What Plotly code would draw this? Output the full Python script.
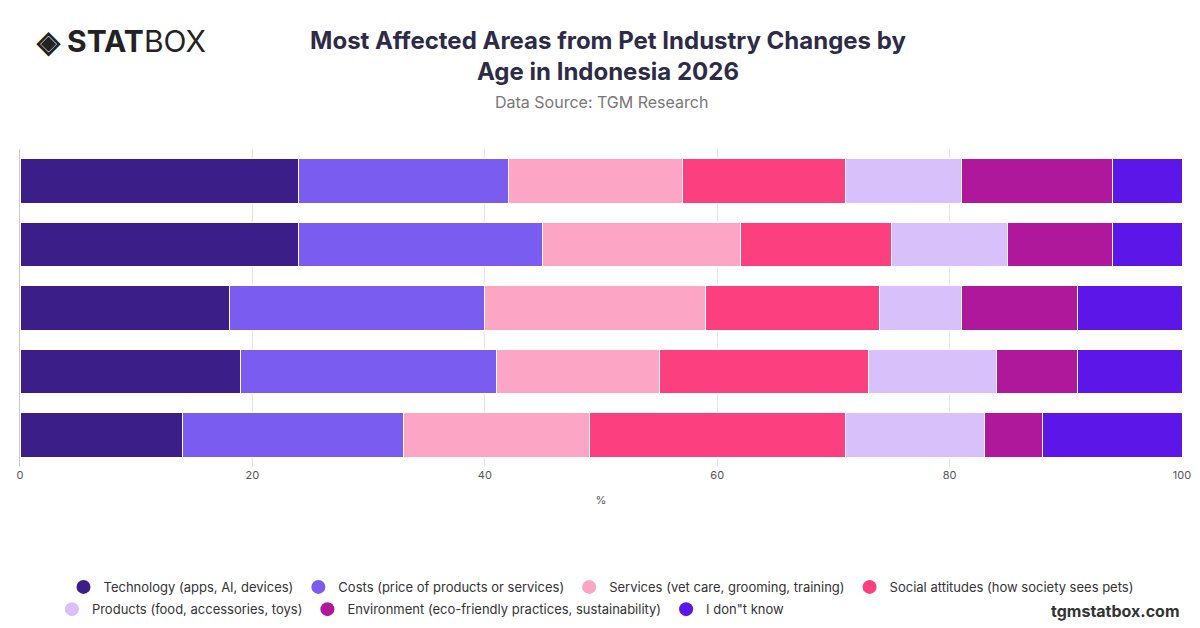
import plotly.graph_objects as go

# age groups, top to bottom (labels are not shown in the chart)
ages = ["18-24", "25-34", "35-44", "45-54", "55+"]
series = [
    "Technology (apps, AI, devices)",
    "Costs (price of products or services)",
    "Services (vet care, grooming, training)",
    "Social attitudes (how society sees pets)",
    "Products (food, accessories, toys)",
    "Environment (eco-friendly practices, sustainability)",
    "I don\"t know",
]
colors = ["#3b1e87", "#7b5cf0", "#fca5c4", "#fb3f7f", "#d8c0fb", "#b0189c", "#5c17e8"]
values = [
    [24, 24, 18, 19, 14],
    [18, 21, 22, 22, 19],
    [15, 17, 19, 14, 16],
    [14, 13, 15, 18, 22],
    [10, 10, 7, 11, 12],
    [13, 9, 10, 7, 5],
    [6, 6, 9, 9, 12],
]

fig = go.Figure()
for name, col, vals in zip(series, colors, values):
    fig.add_trace(go.Bar(y=ages, x=vals, orientation="h", name=name, showlegend=False,
                         marker=dict(color=col, line=dict(color="white", width=1))))
# legend in two rows, like the reference
for i, (name, col) in enumerate(zip(series, colors)):
    fig.add_trace(go.Scatter(x=[None], y=[None], mode="markers", name=name,
                             legend="legend" if i < 4 else "legend2",
                             marker=dict(color=col, size=14, symbol="circle")))

leg = dict(orientation="h", xanchor="center", yanchor="top", traceorder="normal",
           font=dict(size=13, color="#333"), bgcolor="rgba(0,0,0,0)")
fig.update_layout(
    width=1200, height=628, barmode="stack", bargap=0.3,
    plot_bgcolor="white", paper_bgcolor="white",
    font=dict(family="Inter, sans-serif", color="#333"),
    margin=dict(l=12, r=26, t=141, b=160),
    title=dict(text="<b>Most Affected Areas from Pet Industry Changes by<br>Age in Indonesia 2026</b>",
               x=0.5, y=0.935, xanchor="center", yanchor="top",
               font=dict(size=24, color="#2d2b45")),
    xaxis=dict(range=[0, 100], dtick=20, showgrid=True, gridcolor="#e5e5e5",
               tickfont=dict(size=11, color="#555"), title=dict(text="%", font=dict(size=11, color="#555")),
               zeroline=False, showline=False, automargin=False),
    yaxis=dict(categoryorder="array", categoryarray=ages[::-1], showticklabels=False,
               showgrid=False, showline=True, linecolor="#ccc", automargin=False),
    legend=dict(leg, x=0.5, y=-0.33),
    legend2=dict(leg, x=0.345, y=-0.40),
    annotations=[
        dict(text="Data Source: TGM Research", x=0.5, y=1, xref="paper", yref="paper",
             xanchor="center", yanchor="bottom", yshift=35, showarrow=False,
             font=dict(size=16, color="#777")),
        dict(text="<b>◈ STAT</b>BOX", x=0.012, y=1, xref="paper", yref="paper", xanchor="left",
             yanchor="bottom", yshift=88, showarrow=False, font=dict(size=30, color="#222")),
        dict(text="<b>tgmstatbox.com</b>", x=1, y=0, xref="paper", yref="paper",
             xanchor="right", yanchor="top", yshift=-132, showarrow=False,
             font=dict(size=16, color="#333")),
    ],
)
fig.write_html("out.html")
